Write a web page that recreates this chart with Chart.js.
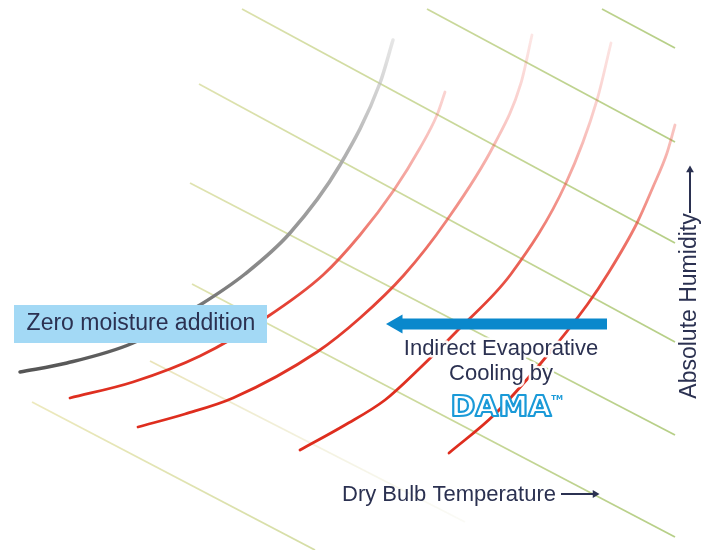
<!DOCTYPE html>
<html>
<head>
<meta charset="utf-8">
<script src="https://cdn.jsdelivr.net/npm/chart.js@4.4.1/dist/chart.umd.min.js"></script>
<style>
    html, body { margin: 0; padding: 0; background: #fff; }
    #wrap { width: 714px; height: 550px; }
</style>
</head>
<body>
<div id="wrap"><canvas id="chart" width="714" height="550"></canvas></div>
<script>
// sheet is drawn in its own units: x 0..714 left to right, y 0..550 top to bottom
// zero moisture line (grey)
const grayX = [20, 67, 133, 200, 245, 290, 340, 380, 393];
const grayY = [372, 363, 343, 305, 274, 233, 165, 83, 40];

// indirect evaporative lines (red)
const red1X = [70, 133, 200, 267, 323, 360, 394, 420, 437, 445];
const red1Y = [398, 382, 356, 317, 275, 235, 190, 148, 115, 92];
const red2X = [138, 185, 233, 317, 360, 404, 447, 494, 521, 532];
const red2Y = [427, 414, 398, 352, 318, 275, 220, 145, 83, 35];
const red3X = [300, 345, 385, 420, 457, 511, 566, 597, 611];
const red3Y = [450, 425, 400, 368, 331, 274, 183, 100, 43];
const red4X = [449, 494, 541, 587, 609, 637, 653, 667, 675];
const red4Y = [453, 415, 363, 305, 272, 223, 187, 153, 125];

// background diagonal lines: start / end
const diagX0 = [242, 427, 602, 199, 190, 192, 150, 32];
const diagY0 = [9, 9, 9, 84, 183, 284, 361, 402];
const diagX1 = [675, 675, 675, 675, 675, 675, 465, 315];
const diagY1 = [243, 142, 48, 342, 435, 537, 522, 550];

// arrows
const coolArrowX = [607, 397];
const coolArrowY = [324, 324];
const dbArrowX = [561, 595];
const dbArrowY = [494, 494];
const ahArrowX = [690, 690];
const ahArrowY = [213, 170];

const textColor = '#2b3151';

const toPts = (xs, ys) => xs.map((v, i) => ({ x: v, y: ys[i] }));

// gradient along y (data units), stops = [[yValue, color], ...]
const vGrad = (chart, stops) => {
    const { ctx, chartArea, scales } = chart;
    if (!chartArea) return stops[stops.length - 1][1];
    const top = scales.y.getPixelForValue(0);
    const bottom = scales.y.getPixelForValue(550);
    const g = ctx.createLinearGradient(0, top, 0, bottom);
    for (const s of stops) {
        g.addColorStop(s[0] / 550, s[1]);
    }
    return g;
}

const hGrad = (chart, x0, x1, c0, c1) => {
    const { ctx, chartArea, scales } = chart;
    if (!chartArea) return c1;
    const g = ctx.createLinearGradient(scales.x.getPixelForValue(x0), 0, scales.x.getPixelForValue(x1), 0);
    g.addColorStop(0, c0);
    g.addColorStop(1, c1);
    return g;
}

const redStops = [
    [20, 'rgba(238,90,80,0.12)'],
    [120, 'rgba(236,80,70,0.3)'],
    [210, 'rgba(232,65,50,0.6)'],
    [300, 'rgba(226,50,36,0.92)'],
    [400, 'rgba(222,45,30,1)'],
    [550, 'rgba(222,45,30,1)']
];
const grayStops = [
    [40, 'rgba(200,200,200,0.45)'],
    [150, 'rgba(170,170,170,0.9)'],
    [270, 'rgba(135,135,135,1)'],
    [372, 'rgba(85,85,85,1)'],
    [550, 'rgba(85,85,85,1)']
];

const curve = (xs, ys, stops, width) => ({
    data: toPts(xs, ys),
    showLine: true,
    pointRadius: 0,
    borderWidth: width,
    borderCapStyle: 'round',
    cubicInterpolationMode: 'monotone',
    borderColor: (c) => vGrad(c.chart, stops)
});

const arrow = (xs, ys, color, width, head, rot) => ({
    data: toPts(xs, ys),
    showLine: true,
    borderWidth: width,
    borderColor: color,
    pointStyle: 'triangle',
    pointRadius: [0, head],
    rotation: rot,
    pointBackgroundColor: color,
    pointBorderColor: color,
    pointBorderWidth: 0
});

const datasets = [
    arrow(coolArrowX, coolArrowY, '#0a88cc', 11, 11, 270),
    arrow(dbArrowX, dbArrowY, textColor, 2, 4.5, 90),
    arrow(ahArrowX, ahArrowY, textColor, 2, 4.5, 0),
    curve(grayX, grayY, grayStops, 3.5),
    curve(red1X, red1Y, redStops, 2.8),
    curve(red2X, red2Y, redStops, 2.8),
    curve(red3X, red3Y, redStops, 2.8),
    curve(red4X, red4Y, redStops, 2.8)
];

for (let i = 0; i < diagX0.length; i++) {
    // the short lower one fades out on its right end
    const fade = i === 6;
    datasets.push({
        data: toPts([diagX0[i], diagX1[i]], [diagY0[i], diagY1[i]]),
        showLine: true,
        pointRadius: 0,
        borderWidth: 1.8,
        borderColor: (c) => fade
            ? hGrad(c.chart, diagX0[i], diagX1[i], 'rgba(232,226,180,0.95)', 'rgba(240,240,225,0.3)')
            : hGrad(c.chart, 30, 675, 'rgba(236,232,186,0.95)', 'rgba(178,204,128,0.95)')
    });
}

// labels, the box and the logo
const overlay = {
    id: 'overlay',
    afterDatasetsDraw(chart) {
        const { ctx, scales } = chart;
        const px = (v) => scales.x.getPixelForValue(v);
        const py = (v) => scales.y.getPixelForValue(v);
        ctx.save();
        ctx.textAlign = 'center';
        ctx.textBaseline = 'middle';

        // Zero moisture box
        ctx.fillStyle = '#a3d9f5';
        ctx.fillRect(px(14), py(305), px(267) - px(14), py(343) - py(305));
        ctx.fillStyle = textColor;
        ctx.font = '23px "Liberation Sans", Arial, sans-serif';
        ctx.fillText('Zero moisture addition', px(141), py(324));

        // Indirect evaporative text with white halo
        ctx.font = '22px "Liberation Sans", Arial, sans-serif';
        ctx.lineJoin = 'round';
        ctx.strokeStyle = 'rgba(255,255,255,0.95)';
        ctx.lineWidth = 5;
        const lines = [['Indirect Evaporative', 349], ['Cooling by', 374]];
        for (const [t, yy] of lines) {
            ctx.strokeText(t, px(501), py(yy));
            ctx.fillStyle = textColor;
            ctx.fillText(t, px(501), py(yy));
        }

        // DAMA logo
        ctx.font = 'bold 29px "DejaVu Sans", sans-serif';
        const w = ctx.measureText('DAMA').width;
        const sx = (px(552) - px(451)) / w;
        ctx.save();
        ctx.translate(px(501), py(408));
        ctx.scale(sx, 1);
        ctx.lineWidth = 2.2 / sx;
        ctx.strokeStyle = '#1a9ad8';
        ctx.fillStyle = '#ffffff';
        ctx.fillText('DAMA', 0, 0);
        ctx.strokeText('DAMA', 0, 0);
        ctx.restore();
        ctx.fillStyle = '#1a9ad8';
        ctx.font = 'bold 7px "DejaVu Sans", sans-serif';
        ctx.fillText('TM', px(557), py(398));

        // axis texts
        ctx.fillStyle = textColor;
        ctx.font = '22px "Liberation Sans", Arial, sans-serif';
        ctx.textAlign = 'left';
        ctx.fillText('Dry Bulb Temperature', px(342), py(495));
        ctx.save();
        ctx.translate(px(690), py(306));
        ctx.rotate(-Math.PI / 2);
        ctx.textAlign = 'center';
        ctx.font = '23px "Liberation Sans", Arial, sans-serif';
        ctx.fillText('Absolute Humidity', 0, 0);
        ctx.restore();

        ctx.restore();
    }
};

const ctx = document.querySelector('#chart');
const chart = new Chart(ctx, {
    type: 'scatter',
    data: { datasets: datasets },
    options: {
        responsive: false,
        animation: false,
        layout: { padding: 0, autoPadding: false },
        plugins: {
            legend: { display: false },
            tooltip: { enabled: false }
        },
        scales: {
            x: { type: 'linear', min: 0, max: 714, display: false },
            y: { type: 'linear', min: 0, max: 550, reverse: true, display: false }
        }
    },
    plugins: [overlay]
});
</script>
</body>
</html>
